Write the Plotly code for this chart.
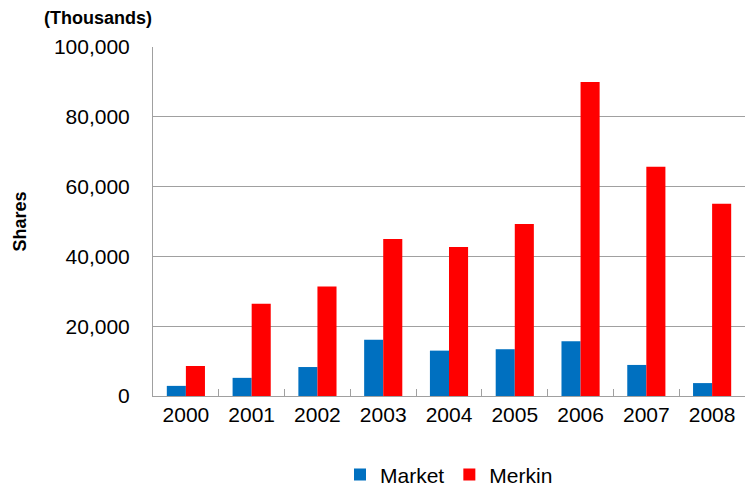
import plotly.graph_objects as go

years = ["2000", "2001", "2002", "2003", "2004", "2005", "2006", "2007", "2008"]
market = [2900, 5200, 8300, 16100, 13000, 13400, 15700, 8900, 3700]
merkin = [8600, 26400, 31400, 45000, 42700, 49300, 90000, 65700, 55100]
y_ticks = [0, 20000, 40000, 60000, 80000, 100000]

fig = go.Figure()
fig.add_trace(go.Bar(x=years, y=market, name="Market", marker=dict(color="#0070C0", line=dict(width=0))))
fig.add_trace(go.Bar(x=years, y=merkin, name="Merkin", marker=dict(color="#FF0000", line=dict(width=0))))

fig.update_layout(
    width=745, height=487,
    margin=dict(l=153, r=0, t=47, b=91, autoexpand=False),
    plot_bgcolor="white", paper_bgcolor="white",
    barmode="group", bargap=0.42, bargroupgap=0,
    font=dict(family="Liberation Sans, Arial, sans-serif", color="black"),
    legend=dict(orientation="h", x=0.5, xanchor="center", yref="container", y=0.025, yanchor="middle",
                font=dict(size=21), itemwidth=30, traceorder="normal"),
    xaxis=dict(showline=True, linecolor="#a0a0a0", linewidth=1,
               ticks="inside", ticklen=7, tickcolor="#a0a0a0", tickson="boundaries",
               tickfont=dict(size=21), showgrid=False),
    yaxis=dict(range=[0, 100000], tickvals=y_ticks, tickformat=",d",
               showline=True, linecolor="#a0a0a0", linewidth=1,
               showgrid=True, gridcolor="#a0a0a0", gridwidth=1,
               ticks="", tickfont=dict(size=21), ticklabelstandoff=18,
               zeroline=False,
               title=dict(text="<b>Shares</b>", font=dict(size=18), standoff=22)),
    annotations=[dict(text="<b>(Thousands)</b>", xref="paper", yref="paper",
                      x=-0.093, y=1.083, xanchor="center", yanchor="middle",
                      showarrow=False, font=dict(size=18))],
)

fig.write_html("out.html")
